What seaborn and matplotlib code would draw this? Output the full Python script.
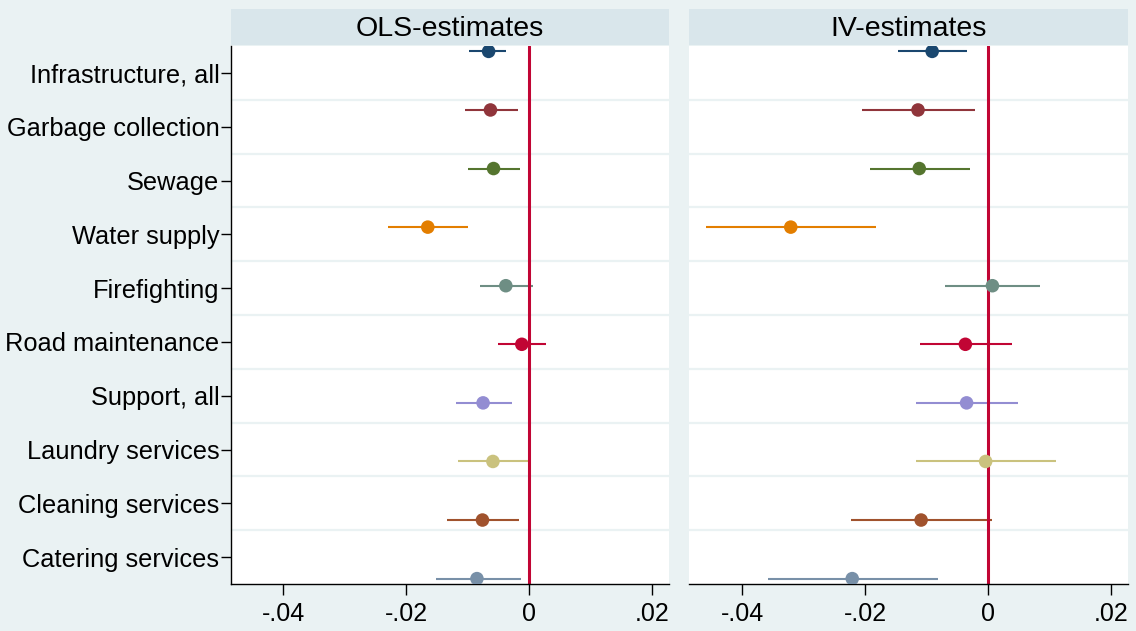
#IMPORT
import numpy as np
import pandas as pd
import matplotlib
matplotlib.use('Agg')
import matplotlib.pyplot as plt
import seaborn as sns

#data
categories = ['Infrastructure, all', 'Garbage collection', 'Sewage', 'Water supply', 'Firefighting',
              'Road maintenance', 'Support, all', 'Laundry services', 'Cleaning services', 'Catering services']

ols_coef = [-0.0066, -0.0063, -0.0058, -0.0165, -0.0038, -0.0012, -0.0075, -0.0059, -0.0076, -0.0085]
ols_lo = [-0.0098, -0.0105, -0.0100, -0.0230, -0.0080, -0.0050, -0.0119, -0.0116, -0.0133, -0.0152]
ols_hi = [-0.0037, -0.0019, -0.0015, -0.0100, 0.0007, 0.0027, -0.0028, -0.0002, -0.0017, -0.0014]

iv_coef = [-0.0091, -0.0114, -0.0112, -0.0321, 0.0007, -0.0037, -0.0035, -0.0004, -0.0109, -0.0221]
iv_lo = [-0.0147, -0.0205, -0.0192, -0.0459, -0.0070, -0.0111, -0.0118, -0.0118, -0.0223, -0.0358]
iv_hi = [-0.0034, -0.0022, -0.0029, -0.0183, 0.0084, 0.0039, 0.0048, 0.0111, 0.0006, -0.0082]

panels = ['OLS-estimates', 'IV-estimates']
xticks = [-0.04, -0.02, 0, 0.02]
xtick_labels = ['-.04', '-.02', '0', '.02']

# stata s2color palette
colors = ['#1a476f', '#90353b', '#55752f', '#e37e00', '#6e8e84',
          '#c10534', '#938dd2', '#cac27e', '#a0522d', '#7890a8']

# build long table, each coef gets its own offset like coefplot does with many models
n = len(categories)
offsets = np.linspace(-0.4, 0.4, n)
rows = []
for model, c, lo, hi in [(panels[0], ols_coef, ols_lo, ols_hi), (panels[1], iv_coef, iv_lo, iv_hi)]:
    for i in range(n):
        rows.append({'model': model, 'category': categories[i], 'coef': c[i], 'lo': lo[i], 'hi': hi[i],
                     'ypos': i + 1 + offsets[i]})
df = pd.DataFrame(rows)

# PLOT
sns.set_style('white')
plt.rcParams['font.family'] = ['Liberation Sans', 'DejaVu Sans']
plt.rcParams['text.color'] = 'black'
plt.rcParams['xtick.color'] = 'black'
plt.rcParams['ytick.color'] = 'black'

bg = '#eaf2f3'
fig = plt.figure(figsize=(11.36, 6.31), dpi=100, facecolor=bg)

W, H = 1136, 631
top, bottom = 46, 584
lefts = [(230.5, 669.3), (689.3, 1128.3)]

for p, model in enumerate(panels):
    x0, x1 = lefts[p]
    ax = fig.add_axes([x0 / W, (H - bottom) / H, (x1 - x0) / W, (bottom - top) / H])
    ax.set_facecolor('white')
    sub = df[df['model'] == model]

    # gridlines between categories
    for g in np.arange(1.5, n, 1):
        ax.axhline(g, color=bg, lw=1.6, zorder=1)

    # confidence intervals
    ax.hlines(sub['ypos'], sub['lo'], sub['hi'], colors=colors, lw=1.5, zorder=2)
    ax.axvline(0, color='#c10534', lw=2.2, zorder=2.5)
    sns.scatterplot(data=sub, x='coef', y='ypos', hue='category', palette=colors, s=95,
                    linewidth=0, legend=False, ax=ax, zorder=3)

    ax.set_xlim(-0.0486, 0.0228)
    ax.set_ylim(n + 0.5, 0.5)
    ax.set_xticks(xticks)
    ax.set_xticklabels(xtick_labels, fontsize=18)
    ax.tick_params(axis='x', length=8, width=1, pad=5, color='black', labelcolor='black', bottom=True)
    ax.set_xlabel('')
    ax.set_ylabel('')

    for s in ['top', 'right']:
        ax.spines[s].set_visible(False)
    ax.spines['bottom'].set_color('black')
    ax.spines['bottom'].set_linewidth(1.0)
    if p == 0:
        ax.set_yticks(range(1, n + 1))
        ax.set_yticklabels(categories, fontsize=18.3)
        ax.tick_params(axis='y', length=7, width=1, pad=1, color='black', labelcolor='black', left=True)
        ax.spines['left'].set_color('black')
        ax.spines['left'].set_linewidth(1.0)
    else:
        ax.set_yticks([])
        ax.spines['left'].set_visible(False)

    # title strip
    sax = fig.add_axes([x0 / W, (H - 45) / H, (x1 - x0) / W, (45 - 9.3) / H])
    sax.set_facecolor('#d9e6eb')
    sax.set_xticks([])
    sax.set_yticks([])
    for s in sax.spines.values():
        s.set_visible(False)
    sax.text(0.5, 0.45, model, ha='center', va='center', fontsize=20.5, color='black',
             transform=sax.transAxes)

plt.savefig('out.png', dpi=100, facecolor=bg)
